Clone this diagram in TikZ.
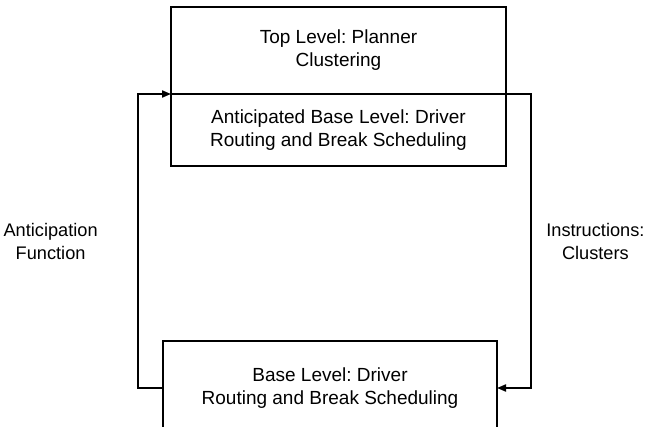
\documentclass[tikz,border=0pt]{standalone}
\usepackage{fontspec}
\setmainfont{Liberation Sans}
\usetikzlibrary{arrows.meta, positioning}
\frenchspacing

\begin{document}
\begin{tikzpicture}[x=1pt, y=-1pt, >={Triangle[length=9pt, width=7pt]},
        % Node Styles
        level/.style={rectangle, draw=black, line width=1.1pt, outer sep=0pt, inner sep=0pt, minimum width=335pt, align=center, font=\fontsize{19}{23}\selectfont},
        annot/.style={align=center, font=\fontsize{18.2}{23}\selectfont},
        arrow/.style={->, line width=2pt, draw=black}
    ]
    \useasboundingbox (0,0) rectangle (652,427);

    % --- Upper level (split box) ---
    \node[level, minimum height=87pt] (top) at (338.5,50.5) {Top Level: Planner\\Clustering};
    \node[level, minimum height=72pt, below=0pt of top] (antic) {Anticipated Base Level: Driver\\Routing and Break Scheduling};

    % --- Lower level (cut off at the bottom) ---
    \node[level, minimum width=334pt, minimum height=94pt] (base) at (330,388) {Base Level: Driver\\Routing and Break Scheduling};

    % --- Feedback loops ---
    \draw[arrow] (base.west) -- ++(-25,0) |- node[pos=0.25, left=36pt, annot] {Anticipation\\Function} (antic.north west);
    \draw[arrow] (antic.north east) -- ++(25,0) |- node[pos=0.25, right=11pt, annot] {Instructions:\\Clusters} (base.east);

\end{tikzpicture}
\end{document}
